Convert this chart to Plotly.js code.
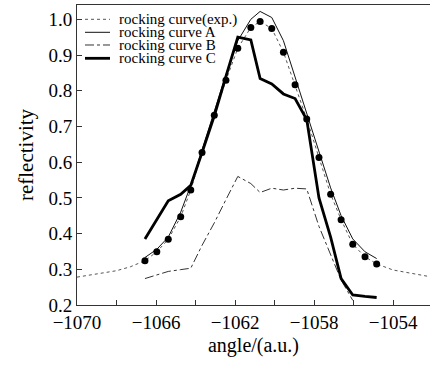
<!DOCTYPE html>
<html>
<head>
<meta charset="utf-8">
<script src="https://cdn.plot.ly/plotly-3.0.1.min.js"></script>
<style>
html,body{margin:0;padding:0;background:#fff;}
#chart{width:430px;height:365px;}
#chart text{font-family:'Liberation Serif' !important;}
</style>
</head>
<body>
<div id="chart"></div>
<script>
// angle positions of the sampled points
const angles = [-1066.56, -1065.96, -1065.38, -1064.75, -1064.24, -1063.67, -1063.05, -1062.46, -1061.86, -1061.2, -1060.73, -1060.14, -1059.55, -1058.96, -1058.37, -1057.75, -1057.16, -1056.63, -1056.04, -1055.42, -1054.83];
// experimental rocking curve (dots)
const expDots = [0.324, 0.349, 0.384, 0.447, 0.522, 0.627, 0.731, 0.829, 0.919, 0.977, 0.994, 0.974, 0.908, 0.817, 0.721, 0.613, 0.51, 0.439, 0.37, 0.335, 0.315];
// experimental dotted line tails
const expLeftX = [-1070, -1069, -1068, -1067.3];
const expLeftY = [0.278, 0.286, 0.296, 0.307];
const expRightX = [-1054, -1053, -1052.1];
const expRightY = [0.298, 0.288, 0.279];
// rocking curve A
const curveA = [0.333, 0.356, 0.39, 0.46, 0.535, 0.635, 0.74, 0.845, 0.94, 1.0, 1.022, 1.005, 0.94, 0.84, 0.739, 0.63, 0.528, 0.45, 0.385, 0.349, 0.33];
// rocking curve B (ends at -1056.04)
const curveB = [0.274, 0.285, 0.294, 0.299, 0.303, 0.367, 0.43, 0.495, 0.56, 0.54, 0.515, 0.527, 0.522, 0.527, 0.525, 0.42, 0.34, 0.27, 0.213];
// rocking curve C
const curveC = [0.385, 0.44, 0.492, 0.51, 0.535, 0.627, 0.73, 0.84, 0.95, 0.942, 0.834, 0.819, 0.791, 0.778, 0.719, 0.5, 0.39, 0.274, 0.228, 0.224, 0.221];
const legendNames = ["rocking curve(exp.)", "rocking curve A", "rocking curve B", "rocking curve C"];

const fam = 'Liberation Serif';
const expLineX = expLeftX.concat(angles, expRightX);
const expLineY = expLeftY.concat(expDots, expRightY);

const traces = [
  {x: expLineX, y: expLineY, mode: 'lines', line: {color: '#555', width: 1, dash: 'dot'}, showlegend: false},
  {x: angles, y: curveA, mode: 'lines', line: {color: '#111', width: 1}, showlegend: false},
  {x: angles.slice(0, curveB.length), y: curveB, mode: 'lines', line: {color: '#333', width: 1, dash: 'dashdot'}, showlegend: false},
  {x: angles, y: curveC, mode: 'lines', line: {color: '#000', width: 2.8}, showlegend: false},
  {x: angles, y: expDots, mode: 'markers', marker: {color: '#000', size: 7}, showlegend: false}
];

// manual legend rows (paper coords)
const rowY = [0.9523, 0.909, 0.8667, 0.8223];
const legStyles = [
  {color: '#555', width: 1, dash: 'dot'},
  {color: '#111', width: 1, dash: 'solid'},
  {color: '#333', width: 1, dash: 'dashdot'},
  {color: '#000', width: 2.8, dash: 'solid'}
];
const shapes = legendNames.map((n, i) => ({type: 'line', xref: 'paper', yref: 'paper', x0: 0.0227, x1: 0.0935, y0: rowY[i], y1: rowY[i], line: legStyles[i]}));
const annotations = legendNames.map((n, i) => ({text: n, xref: 'paper', yref: 'paper', x: 0.113, y: rowY[i], xanchor: 'left', yanchor: 'middle', showarrow: false, font: {family: fam, size: 15, color: '#000'}}));

const layout = {
  width: 430, height: 365,
  margin: {l: 77, r: 0, t: 5, b: 60},
  paper_bgcolor: '#fff', plot_bgcolor: '#fff',
  showlegend: false,
  font: {family: fam, size: 19, color: '#000'},
  xaxis: {
    range: [-1070, -1052.13], tick0: -1070, dtick: 4, ticks: 'inside', ticklen: 5, tickcolor: '#333',
    minor: {dtick: 2, ticks: 'inside', ticklen: 5, tickcolor: '#333'},
    showgrid: false, zeroline: false, showline: true, linecolor: '#333', linewidth: 1, mirror: true,
    title: {text: 'angle/(a.u.)', font: {family: fam, size: 20, color: '#000'}, standoff: 6},
    tickfont: {family: fam, size: 19, color: '#000'}
  },
  yaxis: {
    range: [0.2, 1.04], tick0: 0.2, dtick: 0.1, tickformat: '.1f', ticks: 'inside', ticklen: 5, tickcolor: '#333',
    showgrid: false, zeroline: false, showline: true, linecolor: '#333', linewidth: 1,
    title: {text: 'reflectivity', font: {family: fam, size: 21, color: '#000'}, standoff: 9},
    tickfont: {family: fam, size: 19, color: '#000'}
  },
  shapes: shapes,
  annotations: annotations
};

Plotly.newPlot('chart', traces, layout, {displayModeBar: false});
</script>
</body>
</html>
